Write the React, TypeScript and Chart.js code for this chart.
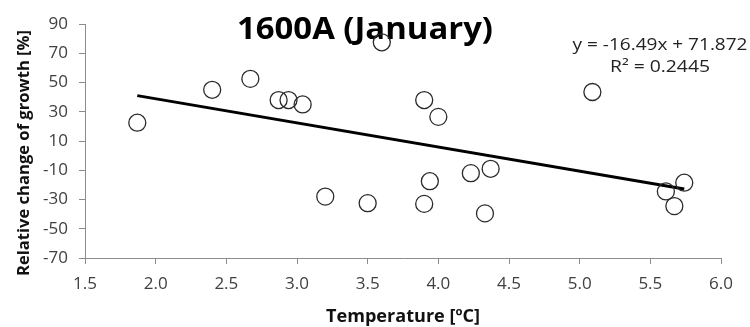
import React, { useEffect, useRef } from "react";
import { Chart, registerables } from "chart.js";

Chart.register(...registerables);

const temperature = [1.87, 2.4, 2.67, 2.87, 2.94, 3.04, 3.2, 3.5, 3.6, 3.9, 3.9, 3.94, 4.0, 4.23, 4.33, 4.37, 5.09, 5.61, 5.67, 5.74];
const growthChange = [22.5, 45, 52.5, 38, 38, 35, -28, -32.5, 77.5, 38, -33, -17.5, 26.5, -12, -39.5, -9, 43.5, -24.5, -34.5, -18.5];
const trendX = [1.87, 5.74];
const trendY = [41.03, -22.78];
const xTicks = [1.5, 2.0, 2.5, 3.0, 3.5, 4.0, 4.5, 5.0, 5.5, 6.0];
const yTicks = [-70, -50, -30, -10, 10, 30, 50, 70, 90];
const titleText = "1600A (January)";
const equationText = "y = -16.49x + 71.872";
const r2Text = "R² = 0.2445";
const xTitle = "Temperature [ºC]";
const yTitle = "Relative change of growth [%]";

const FONT = "'Open Sans', Lato, sans-serif";

function drawFitted(ctx: CanvasRenderingContext2D, text: string, cx: number, y: number, font: string, width: number) {
  ctx.save();
  ctx.font = font;
  const w = ctx.measureText(text).width;
  const s = width / w;
  ctx.translate(cx, y);
  ctx.scale(s, 1);
  ctx.textAlign = "center";
  ctx.textBaseline = "alphabetic";
  ctx.fillText(text, 0, 0);
  ctx.restore();
}

const textPlugin = {
  id: "texts",
  beforeDatasetsDraw(chart: any) {
    const ctx = chart.ctx as CanvasRenderingContext2D;
    ctx.save();
    ctx.fillStyle = "#000";
    drawFitted(ctx, titleText, 365, 39, `bold 30px ${FONT}`, 256);
    ctx.restore();
  },
  afterDraw(chart: any) {
    const ctx = chart.ctx as CanvasRenderingContext2D;
    ctx.save();
    ctx.fillStyle = "#222";
    drawFitted(ctx, equationText, 660, 50, `16px ${FONT}`, 175);
    drawFitted(ctx, r2Text, 660, 72, `16px ${FONT}`, 100);
    ctx.fillStyle = "#111";
    drawFitted(ctx, xTitle, 403, 322, `bold 17.5px ${FONT}`, 154);
    ctx.translate(29, 153);
    ctx.rotate(-Math.PI / 2);
    drawFitted(ctx, yTitle, 0, 0, `bold 16px ${FONT}`, 246);
    ctx.restore();
  },
};

export default function App() {
  const ref = useRef<HTMLCanvasElement | null>(null);
  useEffect(() => {
    if (!ref.current) return;
    const chart = new Chart(ref.current, {
      type: "scatter",
      data: {
        datasets: [
          {
            label: "data",
            data: temperature.map((x, i) => ({ x, y: growthChange[i] })),
            pointRadius: 8.5,
            pointBorderWidth: 1.3,
            pointBorderColor: "#2a2a2a",
            pointBackgroundColor: "rgba(255,255,255,0)",
            showLine: false,
          },
          {
            label: "trend",
            type: "line",
            data: trendX.map((x, i) => ({ x, y: trendY[i] })),
            borderColor: "#000",
            borderWidth: 3,
            pointRadius: 0,
            fill: false,
          } as any,
        ],
      },
      options: {
        responsive: false,
        animation: false,
        layout: { padding: { left: 0, right: 29, top: 24, bottom: 0 } },
        plugins: { legend: { display: false }, tooltip: { enabled: false }, title: { display: false } },
        scales: {
          x: {
            type: "linear",
            min: 1.5,
            max: 6,
            afterBuildTicks: (s: any) => {
              s.ticks = xTicks.map((v) => ({ value: v }));
            },
            afterFit: (s: any) => {
              s.height = 69;
            },
            ticks: {
              callback: (v: any) => Number(v).toFixed(1),
              font: { family: FONT, size: 17 },
              color: "#404040",
              padding: 10,
              maxRotation: 0,
            },
            grid: { drawOnChartArea: false, drawTicks: true, tickLength: 6, color: "#8c8c8c" },
            border: { color: "#8c8c8c", width: 1 },
          },
          y: {
            type: "linear",
            min: -70,
            max: 90,
            afterBuildTicks: (s: any) => {
              s.ticks = yTicks.map((v) => ({ value: v }));
            },
            afterFit: (s: any) => {
              s.width = 85;
            },
            ticks: {
              font: { family: FONT, size: 17 },
              color: "#404040",
              padding: 11,
            },
            grid: { drawOnChartArea: false, drawTicks: true, tickLength: 6, color: "#8c8c8c" },
            border: { color: "#8c8c8c", width: 1 },
          },
        },
      },
      plugins: [textPlugin],
    });
    return () => chart.destroy();
  }, []);
  return (
    <div style={{ position: "absolute", left: 0, top: 0, width: 750, height: 327, background: "#fff" }}>
      <canvas ref={ref} width={750} height={327} style={{ width: 750, height: 327, display: "block" }} />
    </div>
  );
}
